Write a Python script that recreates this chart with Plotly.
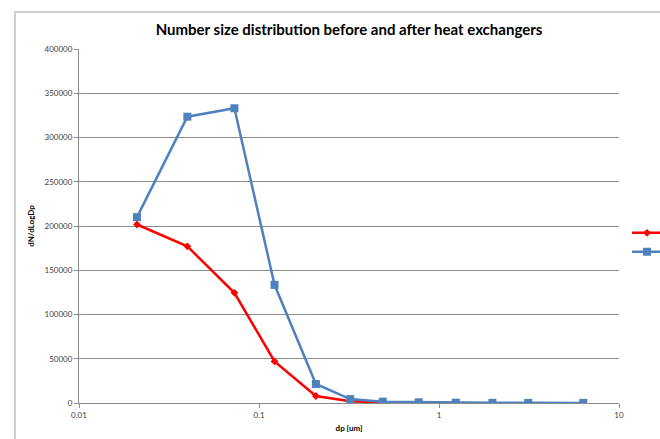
import plotly.graph_objects as go

# Data
dp = [0.021, 0.040, 0.073, 0.122, 0.207, 0.321, 0.487, 0.771, 1.24, 1.98, 3.13, 6.33]
hot_vals = [201700, 177000, 124500, 47000, 7900, 2000, 600, 300, 100]
cold_vals = [210000, 323500, 333000, 133500, 21500, 4400, 1500, 800, 300, 200, 150, 100]
series_names = ["Hot", "Cold"]
x_ticks = [0.01, 0.1, 1, 10]
x_ticktext = ["0.01", "0.1", "1", "10"]

font_family = "Lato, 'Liberation Sans', Arial, sans-serif"

fig = go.Figure()
fig.add_trace(go.Scatter(
    x=dp[:len(hot_vals)], y=hot_vals, name=series_names[0], mode="lines+markers",
    line=dict(color="#FF0000", width=2.5),
    marker=dict(symbol="diamond", size=6, color="#FF0000"),
))
fig.add_trace(go.Scatter(
    x=dp, y=cold_vals, name=series_names[1], mode="lines+markers",
    line=dict(color="#4F81BD", width=2.5),
    marker=dict(symbol="square", size=8, color="#4F81BD"),
))

fig.update_layout(
    width=660, height=439,
    margin=dict(l=79, r=41, t=49, b=36, autoexpand=False),
    paper_bgcolor="white", plot_bgcolor="white",
    font=dict(family=font_family, size=9, color="#404040"),
    title=dict(text="<b>Number size distribution before and after heat exchangers</b>",
               x=(79 + 619) / 2 / 660, xanchor="center", y=1 - 30 / 439, yanchor="middle",
               font=dict(family=font_family, size=15, color="black")),
    showlegend=True,
    legend=dict(x=(627 - 79) / 540, xanchor="left", y=(403.3 - 242.5) / 354.3, yanchor="middle",
                bgcolor="rgba(0,0,0,0)", font=dict(size=9, color="black"),
                tracegroupgap=0),
    xaxis=dict(type="log", range=[-2, 1], tickvals=x_ticks, ticktext=x_ticktext,
               showgrid=False, showline=True, linecolor="#8C8C8C", linewidth=1,
               ticks="outside", ticklen=4, tickcolor="#8C8C8C",
               tickfont=dict(size=8, color="#404040"),
               title=dict(text="<b>dp [um]</b>", font=dict(size=8, color="black"), standoff=6),
               zeroline=False),
    yaxis=dict(range=[0, 400000], dtick=50000, tickformat="d",
               showgrid=True, gridcolor="#8C8C8C", gridwidth=1,
               showline=True, linecolor="#8C8C8C", linewidth=1,
               ticks="outside", ticklen=4, tickcolor="#8C8C8C",
               tickfont=dict(size=8, color="#404040"),
               title=dict(text="<b>dN/dLogDp</b>", font=dict(size=8, color="black"), standoff=8),
               zeroline=False),
)

# outer chart-area frame (Excel style)
fig.add_shape(type="rect", xref="paper", yref="paper",
              x0=(15 - 79) / 540, x1=1.3, y0=-0.3, y1=(403.3 - 12) / 354.3,
              line=dict(color="#D0D0D0", width=2), fillcolor="rgba(0,0,0,0)", layer="below")

fig.write_html("out.html")
